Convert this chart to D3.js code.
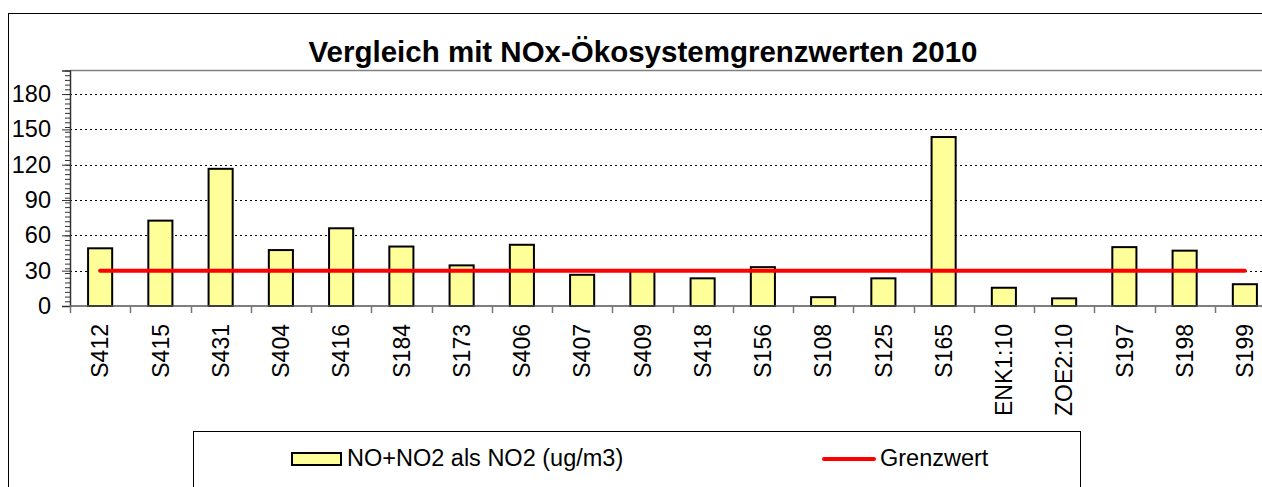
<!DOCTYPE html>
<html>
<head>
<meta charset="utf-8">
<script src="https://cdn.jsdelivr.net/npm/d3@7"></script>
<style>
  body { margin: 0; background: #fff; }
  svg { display: block; font-family: Arial, "Liberation Sans", sans-serif; }
</style>
</head>
<body>
<svg id="chart" width="1262" height="487"></svg>
<script>
var stations = ["S412", "S415", "S431", "S404", "S416", "S184", "S173", "S406", "S407", "S409",
  "S418", "S156", "S108", "S125", "S165", "ENK1:10", "ZOE2:10", "S197", "S198", "S199"];
var noxValues = [49, 72.5, 116.5, 47.5, 66, 50.5, 34.5, 52, 26.5, 30,
  23.5, 33, 7.5, 23.5, 143.5, 15.5, 6.5, 50, 47, 18.5];
var grenzwert = [30, 30, 30, 30, 30, 30, 30, 30, 30, 30,
  30, 30, 30, 30, 30, 30, 30, 30, 30, 30];
var yTicks = [0, 30, 60, 90, 120, 150, 180];

var title = "Vergleich mit NOx-Ökosystemgrenzwerten 2010";
var barLabel = "NO+NO2 als NO2 (ug/m3)";
var lineLabel = "Grenzwert";

var svg = d3.select("#chart");

// outer chart frame (runs past the right edge, like the cropped original)
svg.append("rect")
  .attr("x", 8.5).attr("y", 13.5)
  .attr("width", 1290).attr("height", 600)
  .attr("fill", "none").attr("stroke", "#000");

var x = d3.scaleBand()
  .domain(stations)
  .range([70, 1275])
  .paddingInner(0.6)
  .paddingOuter(0.3);

var y = d3.scaleLinear()
  .domain([0, 200])
  .range([306, 70.5]);

// dashed gridlines
svg.append("g").selectAll("line")
  .data(yTicks.filter(function(d) { return d > 0; }))
  .enter().append("line")
  .attr("x1", 70).attr("x2", 1300)
  .attr("y1", function(d) { return Math.round(y(d)) + 0.5; })
  .attr("y2", function(d) { return Math.round(y(d)) + 0.5; })
  .attr("stroke", "#000")
  .attr("stroke-dasharray", "2,3");

// plot area top edge
svg.append("line")
  .attr("x1", 70).attr("x2", 1300)
  .attr("y1", y(200)).attr("y2", y(200))
  .attr("stroke", "#808080").attr("stroke-width", 1.5);

// bars
svg.append("g").selectAll("rect")
  .data(noxValues)
  .enter().append("rect")
  .attr("x", function(d, i) { return x(stations[i]); })
  .attr("y", function(d) { return y(d); })
  .attr("width", x.bandwidth())
  .attr("height", function(d) { return y(0) - y(d); })
  .attr("fill", "#FFFF99")
  .attr("stroke", "#000")
  .attr("stroke-width", 2);

// limit line
var line = d3.line()
  .x(function(d, i) { return x(stations[i]) + x.bandwidth() / 2; })
  .y(function(d) { return y(d); });

svg.append("path")
  .datum(grenzwert)
  .attr("d", line)
  .attr("fill", "none")
  .attr("stroke", "#FF0000")
  .attr("stroke-width", 4)
  .attr("stroke-linecap", "round");

// y axis: minor ticks then major ticks with labels
var yMinor = svg.append("g")
  .attr("transform", "translate(70,0)")
  .call(d3.axisLeft(y).tickValues(d3.range(0, 201, 4)).tickSize(5).tickFormat(""));
yMinor.select(".domain").remove();
yMinor.selectAll("line").attr("stroke", "#333");

var yAxis = svg.append("g")
  .attr("transform", "translate(70,0)")
  .call(d3.axisLeft(y).tickValues(yTicks).tickSize(8).tickPadding(11));
yAxis.select(".domain").attr("stroke", "#333").attr("stroke-width", 1.5);
yAxis.selectAll("line").attr("stroke", "#333");
yAxis.selectAll("text")
  .attr("font-size", 23.5)
  .attr("font-family", "Arial, 'Liberation Sans', sans-serif")
  .attr("fill", "#000");

// x axis: labels at category centres, ticks between categories
var xAxis = svg.append("g")
  .attr("transform", "translate(0," + y(0) + ")")
  .call(d3.axisBottom(x).tickSize(0));
xAxis.select(".domain").remove();
xAxis.selectAll("text")
  .attr("font-size", 23)
  .attr("font-family", "Arial, 'Liberation Sans', sans-serif")
  .attr("fill", "#000")
  .attr("transform", "rotate(-90)")
  .attr("x", -18)
  .attr("y", 0)
  .attr("dy", "0.36em")
  .attr("text-anchor", "end");

svg.append("line")
  .attr("x1", 70).attr("x2", 1300)
  .attr("y1", y(0)).attr("y2", y(0))
  .attr("stroke", "#555").attr("stroke-width", 1.5);

var gap = (x.step() - x.bandwidth()) / 2;
var bounds = stations.map(function(s) { return x(s) - gap; });
bounds.push(x(stations[stations.length - 1]) + x.bandwidth() + gap);
svg.append("g").selectAll("line")
  .data(bounds)
  .enter().append("line")
  .attr("x1", function(d) { return Math.round(d) + 0.5; })
  .attr("x2", function(d) { return Math.round(d) + 0.5; })
  .attr("y1", y(0)).attr("y2", y(0) + 7)
  .attr("stroke", "#777").attr("stroke-width", 1.5);

// title
svg.append("text")
  .attr("x", 643).attr("y", 62)
  .attr("text-anchor", "middle")
  .attr("font-size", 29.5)
  .attr("font-weight", "bold")
  .text(title);

// legend
var legend = svg.append("g");
legend.append("rect")
  .attr("x", 193.5).attr("y", 431.5)
  .attr("width", 887).attr("height", 100)
  .attr("fill", "#fff").attr("stroke", "#000");
legend.append("rect")
  .attr("x", 292).attr("y", 453)
  .attr("width", 49).attr("height", 12)
  .attr("fill", "#FFFF99").attr("stroke", "#000").attr("stroke-width", 2);
legend.append("text")
  .attr("x", 347).attr("y", 466)
  .attr("font-size", 23.5)
  .text(barLabel);
legend.append("line")
  .attr("x1", 824).attr("x2", 874)
  .attr("y1", 459).attr("y2", 459)
  .attr("stroke", "#FF0000").attr("stroke-width", 4)
  .attr("stroke-linecap", "round");
legend.append("text")
  .attr("x", 880).attr("y", 466)
  .attr("font-size", 23.5)
  .text(lineLabel);
</script>
</body>
</html>
